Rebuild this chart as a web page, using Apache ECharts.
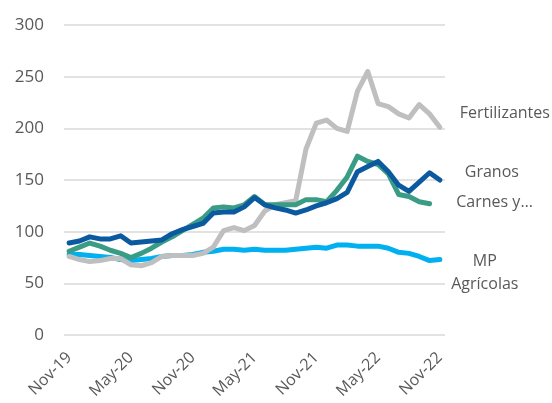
<!DOCTYPE html>
<html>
<head>
<meta charset="utf-8">
<script src="https://cdn.jsdelivr.net/npm/echarts@6/dist/echarts.min.js"></script>
<style>
  html, body { margin: 0; padding: 0; background: #fff; }
  #chart { width: 552px; height: 403px; }
</style>
</head>
<body>
<div id="chart"></div>
<script>
// meses nov-19 .. nov-22
const months = ['Nov-19','Dec-19','Jan-20','Feb-20','Mar-20','Apr-20','May-20','Jun-20','Jul-20','Aug-20','Sep-20','Oct-20',
  'Nov-20','Dec-20','Jan-21','Feb-21','Mar-21','Apr-21','May-21','Jun-21','Jul-21','Aug-21','Sep-21','Oct-21',
  'Nov-21','Dec-21','Jan-22','Feb-22','Mar-22','Apr-22','May-22','Jun-22','Jul-22','Aug-22','Sep-22','Oct-22','Nov-22'];

const fertilizantes = [76,73,71,72,74,74,68,67,70,76,77,77,77,79,85,101,104,101,106,120,126,128,130,180,205,208,200,197,236,255,224,221,214,210,223,214,201];
const granos = [89,91,95,93,93,96,89,90,91,92,98,102,105,108,118,119,119,124,133,126,123,121,118,121,125,128,132,138,158,163,168,158,145,139,148,157,150];
const carnes = [81,85,89,86,82,79,75,79,84,90,95,101,107,113,123,124,123,126,134,126,126,126,126,131,131,129,140,153,173,168,165,156,136,134,129,127,null];
const mpAgricolas = [78,78,77,76,75,73,72,73,74,76,77,77,78,80,81,83,83,82,83,82,82,82,83,84,85,84,87,87,86,86,86,84,80,79,76,72,73];

const yTicks = [0, 50, 100, 150, 200, 250, 300];

const FONT = 'Open Sans';
const TXT = '#595959';

function lineSeries(name, data, color, label, offset) {
  return {
    name, type: 'line', data, showSymbol: false, symbol: 'none',
    lineStyle: { color, width: 5, cap: 'round', join: 'round' },
    itemStyle: { color },
    z: 2,
    endLabel: {
      show: true, formatter: label, color: TXT, fontFamily: FONT, fontSize: 16,
      offset, lineHeight: 23, align: 'center'
    }
  };
}

const granosSeries = lineSeries('Granos', granos, '#0B5AA0', 'Granos', [44, -8]);
// pequeña línea guía hacia la etiqueta de Granos
granosSeries.labelLine = { show: true, lineStyle: { color: '#A6A6A6', width: 1 } };

const chart = echarts.init(document.getElementById('chart'));
chart.setOption({
  animation: false,
  grid: { left: 64, right: 107, top: 25, bottom: 68 },
  xAxis: {
    type: 'category', data: months, boundaryGap: true,
    axisLine: { show: false }, axisTick: { show: false },
    axisLabel: { interval: 5, rotate: 45, color: TXT, fontFamily: FONT, fontSize: 16, margin: 20 }
  },
  yAxis: {
    type: 'value', min: yTicks[0], max: yTicks[yTicks.length - 1], interval: 50,
    axisLine: { show: false }, axisTick: { show: false },
    axisLabel: { color: TXT, fontFamily: FONT, fontSize: 17, margin: 20 },
    splitLine: { lineStyle: { color: '#D9D9D9', width: 1.5 } }
  },
  series: [
    lineSeries('MP Agrícolas', mpAgricolas, '#00B0F0', 'MP\nAgrícolas', [37, 13]),
    lineSeries('Fertilizantes', fertilizantes, '#BFBFBF', 'Fertilizantes', [57, -14]),
    lineSeries('Carnes y...', carnes, '#3A9C84', 'Carnes y…', [57, -1]),
    granosSeries
  ]
});
</script>
</body>
</html>
